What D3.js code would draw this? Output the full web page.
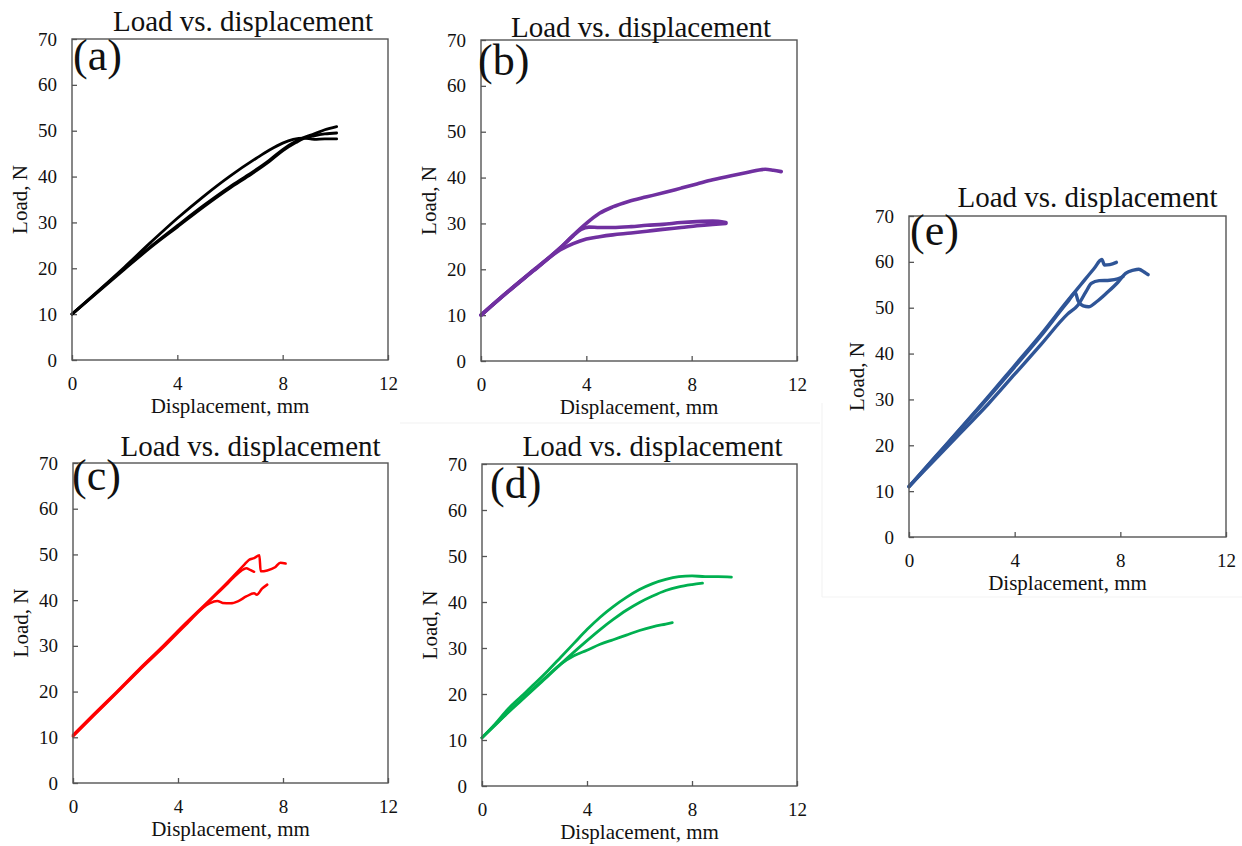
<!DOCTYPE html>
<html>
<head>
<meta charset="utf-8">
<script src="https://cdn.jsdelivr.net/npm/d3@7"></script>
<style>
  html, body { margin: 0; padding: 0; background: #ffffff; }
  svg { display: block; }
  text { font-family: "Liberation Serif", "Times New Roman", serif; fill: #111; }
</style>
</head>
<body>
<svg id="chart" width="1242" height="846"></svg>
<script>
// ---------------- data ----------------
const chartTitle = "Load vs. displacement";
const xAxisLabel = "Displacement, mm";
const yAxisLabel = "Load, N";
const xTicks = [0, 4, 8, 12];
const yTicks = [0, 10, 20, 30, 40, 50, 60, 70];
const panelLabels = ["(a)", "(b)", "(c)", "(d)", "(e)"];

// (a) black
const a1 = [[0,10],[1,15.1],[2,20.3],[3,25.7],[4,30.9],[5,35.7],[6,40.1],[7,44],[7.5,45.8],[8,47.3],[8.4,48.1],[8.8,48.4],[9.2,48.1],[9.6,48.2],[10.05,48.2]];
const a2 = [[0,10],[1,15],[2,20],[3,24.8],[4,29.3],[5,33.7],[6,37.8],[6.7,40.4],[7.5,43.6],[8,45.9],[8.5,47.7],[8.8,48.5],[9.2,49.3],[9.6,50.2],[10.05,50.9]];
const a3 = [[0,10],[1,14.9],[2,19.8],[3,24.6],[4,29],[5,33.4],[6,37.5],[6.7,40.1],[7.5,43.3],[8,45.6],[8.5,47.4],[8.8,48.3],[9.2,48.9],[9.6,49.3],[10.05,49.5]];

// (b) purple
const b1 = [[0,10],[1,15],[2,19.8],[3,24.6],[3.5,27.4],[4,30],[4.5,32.2],[5,33.6],[5.6,34.8],[6.3,35.8],[7,36.8],[7.6,37.7],[8.2,38.6],[8.8,39.5],[9.5,40.4],[10.1,41.1],[10.8,41.8],[11.1,41.6],[11.4,41.3]];
const b2 = [[0,10],[1,15],[2,19.8],[3,24.6],[3.5,27.3],[3.8,28.7],[4.1,29.2],[4.5,29.1],[5,29.1],[5.7,29.3],[6.3,29.6],[6.9,29.8],[7.6,30.2],[8.2,30.4],[8.8,30.5],[9.3,30.2]];
const b3 = [[0,10],[1,15],[2,19.7],[3,24.2],[3.5,25.6],[4,26.6],[4.5,27.1],[5,27.5],[5.7,27.9],[6.3,28.3],[6.9,28.7],[7.6,29.1],[8.2,29.5],[8.8,29.8],[9.3,30]];

// (c) red
const c1 = [[0,10.5],[0.8,15.1],[1.65,19.9],[2.5,24.8],[3.45,30.1],[4.3,35],[5.2,40],[5.9,44],[6.5,47.6],[6.7,48.8],[6.9,49.2],[7.1,49.8],[7.15,46.3],[7.4,46.5],[7.7,47.2],[7.9,48.2],[8.1,48]];
const c2 = [[0,10.3],[0.8,14.9],[1.65,19.7],[2.5,24.6],[3.45,29.9],[4.3,34.8],[5.2,39.8],[5.9,43.7],[6.4,46.4],[6.6,47],[6.75,46.6],[6.9,46.2]];
const c3 = [[0,10.2],[0.8,14.8],[1.65,19.6],[2.5,24.5],[3.45,29.7],[4.3,34.6],[5.2,39.3],[5.5,39.8],[5.7,39.4],[6,39.3],[6.3,39.8],[6.6,40.8],[6.9,41.5],[7,41.2],[7.2,42.5],[7.4,43.4]];

// (d) green
const d1 = [[0,10.5],[0.5,13.5],[1,16.8],[1.5,19.5],[2,22.2],[2.5,25],[3,28],[3.5,31],[4,34],[4.5,36.7],[5,39],[5.5,41],[6,42.7],[6.5,44],[7,44.9],[7.5,45.5],[8,45.7],[8.5,45.5],[9,45.5],[9.5,45.4]];
const d2 = [[0,10.5],[0.5,13.2],[1,16],[1.5,18.6],[2,21.2],[2.5,23.8],[3,26.5],[3.5,29.1],[4,31.6],[4.5,34],[5,36.2],[5.5,38.2],[6,39.9],[6.5,41.3],[7,42.5],[7.5,43.3],[8,43.8],[8.4,44.1]];
const d3s = [[0,10.5],[0.5,13.3],[1,16.1],[1.5,18.8],[2,21.4],[2.5,24],[3,26.5],[3.5,28.3],[4,29.5],[4.5,30.8],[5,31.8],[5.5,32.8],[6,33.8],[6.5,34.6],[7,35.2],[7.25,35.5]];

// (e) blue
const e1 = [[0,11],[1,17.5],[2,24],[3,30.6],[4,37.4],[5,44.2],[6,51.5],[6.5,55],[7,58.5],[7.3,60.5],[7.4,59.3],[7.6,59.4],[7.85,59.9]];
const e2 = [[0,11],[1,17.4],[2,23.9],[3,30.4],[4,37.1],[5,43.9],[6,51.2],[6.3,53.2],[6.4,51.5],[6.6,50.4],[6.8,50.2],[7.1,51.3],[7.5,53.3],[7.9,55.5],[8.2,57.5],[8.5,58.2],[8.7,58.4],[8.9,57.8],[9.05,57.2]];
const e3 = [[0,11],[1,17],[2,23],[3,29],[4,35.5],[5,42],[6,48.6],[6.4,50.6],[6.7,53.5],[6.9,55.3],[7.2,55.9],[7.6,56],[7.9,56.3],[8.1,56.8]];

// ---------------- layout ----------------
const panels = [
  { label: panelLabels[0], left: 72,  top: 39,  w: 316, h: 321, color: "#000000", width: 2.8, series: [a1, a2, a3], titleDx: 13, titleDy: -8,  labelDx: 1, labelDy: 31 },
  { label: panelLabels[1], left: 481, top: 40,  w: 316, h: 321, color: "#7030a0", width: 3.6, series: [b1, b2, b3], titleDx: 2,  titleDy: -3, labelDx: -3, labelDy: 35 },
  { label: panelLabels[2], left: 73,  top: 463, w: 315, h: 320, color: "#ff0000", width: 2.5, series: [c1, c2, c3], titleDx: 20, titleDy: -7, labelDx: -1, labelDy: 27 },
  { label: panelLabels[3], left: 482, top: 464, w: 315, h: 322, color: "#00b050", width: 2.8, series: [d1, d2, d3s], titleDx: 13, titleDy: -8, labelDx: 8, labelDy: 34 },
  { label: panelLabels[4], left: 909, top: 216, w: 317, h: 321, color: "#2f5597", width: 3.4, series: [e1, e2, e3], titleDx: 20, titleDy: -9, labelDx: 1, labelDy: 29 }
];

const svg = d3.select("#chart");

// faint panel borders from the original composite image
svg.append("line").attr("x1", 400).attr("y1", 423).attr("x2", 820).attr("y2", 423)
   .attr("stroke", "#f1f1f1").attr("stroke-width", 1);
svg.append("line").attr("x1", 822).attr("y1", 403).attr("x2", 822).attr("y2", 597)
   .attr("stroke", "#f1f1f1").attr("stroke-width", 1);
svg.append("line").attr("x1", 822).attr("y1", 597).attr("x2", 1242).attr("y2", 597)
   .attr("stroke", "#f3f3f3").attr("stroke-width", 1);

panels.forEach(p => {
  const g = svg.append("g").attr("transform", `translate(${p.left},${p.top})`);
  const x = d3.scaleLinear().domain([0, 12]).range([0, p.w]);
  const y = d3.scaleLinear().domain([0, 70]).range([p.h, 0]);

  // axes (ticks point inward)
  const xAxis = d3.axisBottom(x).tickValues(xTicks).tickSizeInner(-5).tickSizeOuter(0).tickPadding(17);
  const yAxis = d3.axisLeft(y).tickValues(yTicks).tickSizeInner(-5).tickSizeOuter(0).tickPadding(15);

  const gx = g.append("g").attr("transform", `translate(0,${p.h})`).call(xAxis);
  const gy = g.append("g").call(yAxis);
  [gx, gy].forEach(ax => {
    ax.select(".domain").remove();
    ax.selectAll(".tick line").attr("stroke", "#555").attr("stroke-width", 1.3);
    ax.selectAll(".tick text")
      .attr("font-family", '"Liberation Serif", "Times New Roman", serif')
      .attr("font-size", 19).attr("fill", "#111");
  });

  // series lines
  const line = d3.line().x(d => x(d[0])).y(d => y(d[1])).curve(d3.curveMonotoneX);
  p.series.forEach(s => {
    g.append("path").datum(s)
      .attr("d", line)
      .attr("fill", "none")
      .attr("stroke", p.color)
      .attr("stroke-width", p.width)
      .attr("stroke-linejoin", "round")
      .attr("stroke-linecap", "round");
  });

  // frame
  g.append("rect").attr("x", 0).attr("y", 0).attr("width", p.w).attr("height", p.h)
    .attr("fill", "none").attr("stroke", "#555").attr("stroke-width", 1.4);

  // title
  g.append("text").attr("x", p.w / 2 + p.titleDx).attr("y", p.titleDy)
    .attr("text-anchor", "middle").attr("font-size", 29).text(chartTitle);

  // panel label
  g.append("text").attr("x", p.labelDx).attr("y", p.labelDy)
    .attr("font-size", 44).text(p.label);

  // axis labels
  g.append("text").attr("x", p.w / 2).attr("y", p.h + 53)
    .attr("text-anchor", "middle").attr("font-size", 21).text(xAxisLabel);
  g.append("text")
    .attr("transform", `translate(-45,${p.h / 2}) rotate(-90)`)
    .attr("text-anchor", "middle").attr("font-size", 21).text(yAxisLabel);
});
</script>
</body>
</html>
